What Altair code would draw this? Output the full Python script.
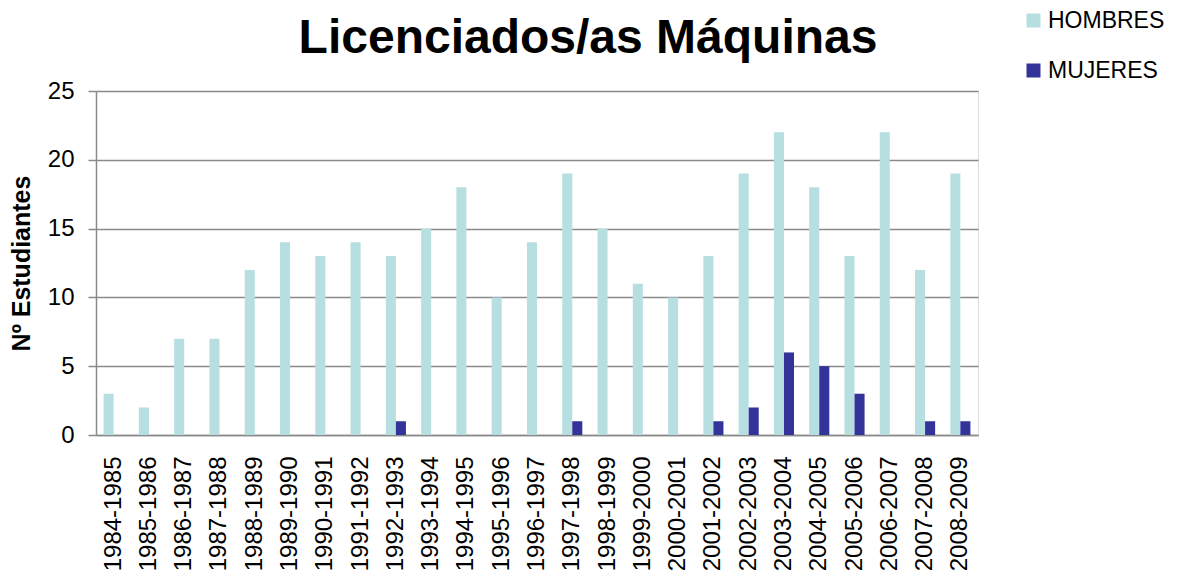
import altair as alt
import pandas as pd

years = ["1984-1985", "1985-1986", "1986-1987", "1987-1988", "1988-1989",
         "1989-1990", "1990-1991", "1991-1992", "1992-1993", "1993-1994",
         "1994-1995", "1995-1996", "1996-1997", "1997-1998", "1998-1999",
         "1999-2000", "2000-2001", "2001-2002", "2002-2003", "2003-2004",
         "2004-2005", "2005-2006", "2006-2007", "2007-2008", "2008-2009"]
hombres = [3, 2, 7, 7, 12, 14, 13, 14, 13, 15, 18, 10, 14, 19, 15, 11, 10,
           13, 19, 22, 18, 13, 22, 12, 19]
mujeres = [0, 0, 0, 0, 0, 0, 0, 0, 1, 0, 0, 0, 0, 1, 0, 0, 0,
           1, 2, 6, 5, 3, 0, 1, 1]
series = ["HOMBRES", "MUJERES"]
colors = ["#B7DFE2", "#333399"]

rows = []
for y, h, m in zip(years, hombres, mujeres):
    rows.append({"curso": y, "serie": "HOMBRES", "valor": h})
    rows.append({"curso": y, "serie": "MUJERES", "valor": m})
df = pd.DataFrame(rows)

FONT = "Liberation Sans"
GRID = "#8A8A8A"

chart = alt.Chart(df).mark_bar().encode(
    x=alt.X("curso:N", sort=years,
            scale=alt.Scale(paddingInner=0.43, paddingOuter=0.215),
            axis=alt.Axis(title=None, labelAngle=270, labelAlign="right",
                          labelBaseline="middle", labelPadding=21,
                          labelFontSize=24, labelFont=FONT, labelColor="#000000",
                          ticks=False, domainColor=GRID, domainWidth=1.5,
                          labelOverlap=False)),
    xOffset=alt.XOffset("serie:N", sort=series,
                        scale=alt.Scale(paddingInner=0, paddingOuter=0)),
    y=alt.Y("valor:Q", scale=alt.Scale(domain=[0, 25], nice=False),
            axis=alt.Axis(title="Nº Estudiantes", values=[0, 5, 10, 15, 20, 25],
                          titleFont=FONT, titleFontSize=25, titleFontWeight="bold",
                          titleColor="#000000", titleX=-75, titleY=172,
                          titleAngle=270, titleAlign="center", titleBaseline="middle",
                          labelFont=FONT, labelFontSize=24, labelColor="#000000",
                          labelPadding=14, tickSize=8, tickColor=GRID, tickWidth=1.5,
                          domainColor=GRID, domainWidth=1.5,
                          gridColor=GRID, gridWidth=1.5)),
    color=alt.Color("serie:N", sort=series,
                    scale=alt.Scale(domain=series, range=colors),
                    legend=alt.Legend(title=None, orient="none", legendX=926,
                                      legendY=-82, symbolType="square",
                                      symbolSize=196, symbolStrokeWidth=0,
                                      labelFont=FONT, labelFontSize=23,
                                      labelColor="#000000", labelOffset=3,
                                      rowPadding=26, padding=0, offset=0)),
).properties(
    width=882,
    height=344,
    title=alt.TitleParams("Licenciados/as Máquinas", font=FONT, fontSize=48,
                          fontWeight="bold", color="#000000", anchor="middle",
                          dx=51, dy=87, offset=33),
    autosize=alt.AutoSizeParams(type="none"),
    padding={"left": 88, "top": 83, "right": 198, "bottom": 138},
).configure_view(stroke=None).configure(background="#FFFFFF")

chart.save("out.html", embed_options={"renderer": "svg", "actions": False})
